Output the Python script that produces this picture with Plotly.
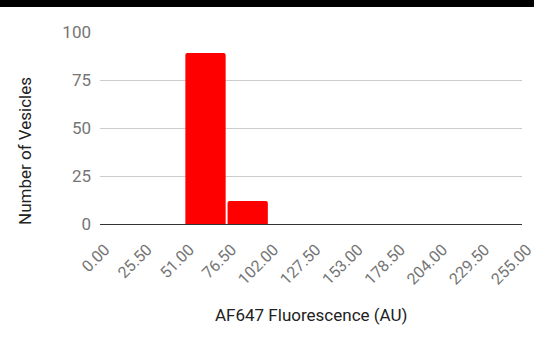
import plotly.graph_objects as go

bin_edges = [0.0, 25.5, 51.0, 76.5, 102.0, 127.5, 153.0, 178.5, 204.0, 229.5, 255.0]
tick_labels = ["0.00", "25.50", "51.00", "76.50", "102.00", "127.50", "153.00",
               "178.50", "204.00", "229.50", "255.00"]
counts = [0, 0, 89, 12, 0, 0, 0, 0, 0, 0]
x_title = "AF647 Fluorescence (AU)"
y_title = "Number of Vesicles"

centers = [(a + b) / 2 for a, b in zip(bin_edges[:-1], bin_edges[1:])]
widths = [b - a for a, b in zip(bin_edges[:-1], bin_edges[1:])]

FONT = "Roboto, Arial, sans-serif"

fig = go.Figure()
fig.add_trace(go.Bar(
    x=centers, y=counts, width=[w * 0.955 for w in widths],
    marker=dict(color="#ff0000", line=dict(width=0), cornerradius=2),
    hoverinfo="x+y",
))

fig.update_layout(
    width=534, height=337,
    margin=dict(l=100, r=12, t=32, b=113),
    paper_bgcolor="white", plot_bgcolor="white",
    showlegend=False,
    font=dict(family=FONT, size=17, color="#757575"),
    xaxis=dict(
        range=[bin_edges[0], bin_edges[-1]],
        tickmode="array", tickvals=bin_edges, ticktext=tick_labels,
        tickangle=-45, showgrid=False, zeroline=False,
        showline=True, linecolor="#333333", linewidth=1,
        ticks="", tickfont=dict(size=16, color="#757575"),
        ticklabelstandoff=9, ticklabelshift=5,
        ticklabeloverflow="allow", automargin=False,
    ),
    yaxis=dict(
        range=[0, 100], tickmode="array", tickvals=[0, 25, 50, 75, 100],
        showgrid=True, gridcolor="#cccccc", gridwidth=1,
        zeroline=False, showline=False, ticks="",
        ticklabelstandoff=8, automargin=False,
        tickfont=dict(size=17, color="#757575"),
    ),
    annotations=[
        dict(text=x_title, xref="paper", yref="paper",
             x=0.5, y=(224 - 315) / 192, showarrow=False,
             xanchor="center", yanchor="middle",
             font=dict(family=FONT, size=17, color="#222222")),
        dict(text=y_title, xref="paper", yref="paper",
             x=(25 - 100) / 422, y=(224 - 151) / 192, showarrow=False,
             textangle=-90, xanchor="center", yanchor="middle",
             font=dict(family=FONT, size=17, color="#222222")),
    ],
    shapes=[
        dict(type="rect", xref="paper", yref="paper",
             x0=-0.25, x1=1.05, y0=(224 - 7) / 192, y1=(224 + 5) / 192,
             fillcolor="black", line=dict(width=0), layer="above"),
    ],
)

fig.write_html(
    "out.html",
    config={"displayModeBar": False},
    post_script="document.body.style.margin='0';document.body.style.overflow='hidden';"
                "document.documentElement.style.overflow='hidden';",
)
